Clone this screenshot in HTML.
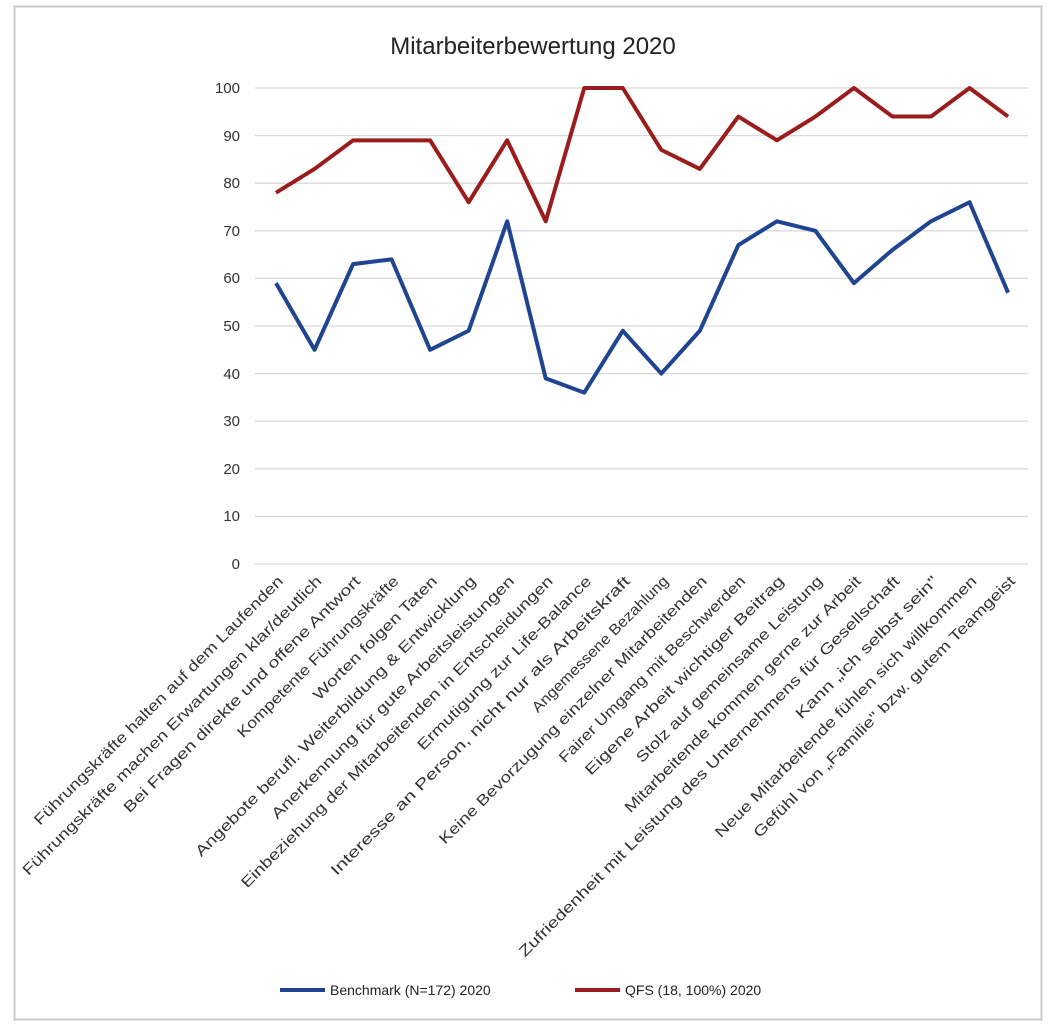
<!DOCTYPE html>
<html><head><meta charset="utf-8"><style>
html,body{margin:0;padding:0;background:#fff;}
svg{display:block;font-family:"Liberation Sans",sans-serif;}
</style></head><body>
<svg width="1056" height="1026" viewBox="0 0 1056 1026" xmlns="http://www.w3.org/2000/svg">
<rect x="14.5" y="6.5" width="1027" height="1013" fill="#fff" stroke="#c8c8c8" stroke-width="2"/>
<text x="533" y="54" font-size="24" text-anchor="middle" fill="#222">Mitarbeiterbewertung 2020</text>
<g stroke="#d9d9d9" stroke-width="1.3">
<line x1="255" x2="1028" y1="88" y2="88"/><line x1="255" x2="1028" y1="135.6" y2="135.6"/>
<line x1="255" x2="1028" y1="183.2" y2="183.2"/><line x1="255" x2="1028" y1="230.8" y2="230.8"/>
<line x1="255" x2="1028" y1="278.4" y2="278.4"/><line x1="255" x2="1028" y1="326" y2="326"/>
<line x1="255" x2="1028" y1="373.6" y2="373.6"/><line x1="255" x2="1028" y1="421.2" y2="421.2"/>
<line x1="255" x2="1028" y1="468.8" y2="468.8"/><line x1="255" x2="1028" y1="516.4" y2="516.4"/>
<line x1="255" x2="1028" y1="564" y2="564"/>
</g>
<g font-size="15" text-anchor="end" fill="#333">
<text x="240" y="93">100</text><text x="240" y="141">90</text><text x="240" y="188">80</text>
<text x="240" y="236">70</text><text x="240" y="283">60</text><text x="240" y="331">50</text>
<text x="240" y="379">40</text><text x="240" y="426">30</text><text x="240" y="474">20</text>
<text x="240" y="521">10</text><text x="240" y="569">0</text>
</g>
<g id="labels" font-size="15" fill="#333" text-anchor="end"></g>
<polyline id="blue" fill="none" stroke="#1f4591" stroke-width="4" stroke-linejoin="round"/>
<polyline id="red" fill="none" stroke="#9b1c1c" stroke-width="4" stroke-linejoin="round"/>
<line x1="280" x2="325" y1="990" y2="990" stroke="#1f4591" stroke-width="4"/>
<text x="330" y="995" font-size="14" fill="#222">Benchmark (N=172) 2020</text>
<line x1="575" x2="620" y1="990" y2="990" stroke="#9b1c1c" stroke-width="4"/>
<text x="625" y="995" font-size="14" fill="#222">QFS (18, 100%) 2020</text>
<script>
var B=[59,45,63,64,45,49,72,39,36,49,40,49,67,72,70,59,66,72,76,57];
var R=[78,83,89,89,89,76,89,72,100,100,87,83,94,89,94,100,94,94,100,94];
var L=["Führungskräfte halten auf dem Laufenden","Führungskräfte machen Erwartungen klar/deutlich","Bei Fragen direkte und offene Antwort","Kompetente Führungskräfte","Worten folgen Taten","Angebote berufl. Weiterbildung & Entwicklung","Anerkennung für gute Arbeitsleistungen","Einbeziehung der Mitarbeitenden in Entscheidungen","Ermutigung zur Life-Balance","Interesse an Person, nicht nur als Arbeitskraft","Angemessene Bezahlung","Keine Bevorzugung einzelner Mitarbeitenden","Fairer Umgang mit Beschwerden","Eigene Arbeit wichtiger Beitrag","Stolz auf gemeinsame Leistung","Mitarbeitende kommen gerne zur Arbeit","Zufriedenheit mit Leistung des Unternehmens für Gesellschaft","Kann „ich selbst sein\"","Neue Mitarbeitende fühlen sich willkommen","Gefühl von „Familie\" bzw. gutem Teamgeist"];
function X(i){return 276+i*38.53;}function Y(v){return 564-v*4.76;}
document.getElementById('blue').setAttribute('points',B.map(function(v,i){return X(i)+','+Y(v);}).join(' '));
document.getElementById('red').setAttribute('points',R.map(function(v,i){return X(i)+','+Y(v);}).join(' '));
var g=document.getElementById('labels'),ns="http://www.w3.org/2000/svg";
L.forEach(function(t,i){var e=document.createElementNS(ns,'text');var x=X(i)+8,y=582;
e.setAttribute('x',x);e.setAttribute('y',y);e.setAttribute('transform','rotate(-45 '+x+' '+y+')');
e.setAttribute('textLength',(t.length*8.85).toFixed(1));e.setAttribute('lengthAdjust','spacingAndGlyphs');
e.textContent=t;g.appendChild(e);});
</script>
</svg>
</body></html>
